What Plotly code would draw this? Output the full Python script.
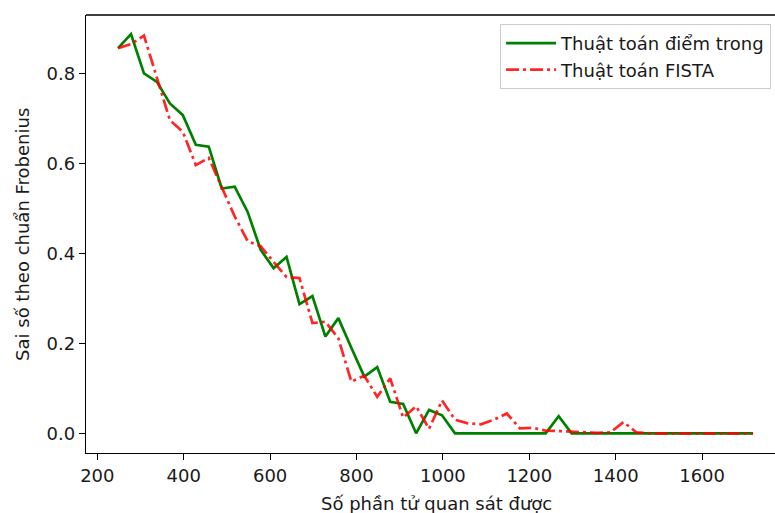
import plotly.graph_objects as go

# ---- data ----
so_phan_tu = [248, 278, 308, 338, 368, 398, 428, 458, 488, 518,
              548, 578, 608, 638, 668, 698, 728, 758, 788, 818,
              848, 878, 908, 938, 968, 998, 1028, 1058, 1088, 1118,
              1148, 1178, 1208, 1238, 1268, 1298, 1328, 1358, 1388, 1418,
              1448, 1478, 1508, 1538, 1568, 1598, 1628, 1658, 1688, 1718]

diem_trong = [0.856, 0.887, 0.800, 0.781, 0.733, 0.707, 0.641, 0.637, 0.544, 0.548,
              0.492, 0.408, 0.367, 0.392, 0.287, 0.305, 0.215, 0.256, 0.190, 0.126,
              0.147, 0.070, 0.065, 0.000, 0.052, 0.040, 0.000, 0.000, 0.000, 0.000,
              0.000, 0.000, 0.000, 0.000, 0.038, 0.000, 0.000, 0.000, 0.000, 0.000,
              0.000, 0.000, 0.000, 0.000, 0.000, 0.000, 0.000, 0.000, 0.000, 0.000]

fista = [0.856, 0.865, 0.884, 0.790, 0.696, 0.670, 0.596, 0.612, 0.547, 0.482,
         0.427, 0.416, 0.381, 0.347, 0.345, 0.245, 0.248, 0.211, 0.115, 0.128,
         0.081, 0.122, 0.035, 0.060, 0.010, 0.073, 0.030, 0.022, 0.020, 0.030,
         0.044, 0.011, 0.012, 0.006, 0.005, 0.004, 0.002, 0.001, 0.002, 0.025,
         0.002, 0.000, 0.000, 0.000, 0.000, 0.000, 0.000, 0.000, 0.000, 0.000]

x_ticks = [200, 400, 600, 800, 1000, 1200, 1400, 1600]
y_ticks = [0.0, 0.2, 0.4, 0.6, 0.8]

name_1 = "Thuật toán điểm trong"
name_2 = "Thuật toán FISTA"
x_title = "Số phần tử quan sát được"
y_title = "Sai số theo chuẩn Frobenius"

FONT = "DejaVu Sans"
TXT = "#1a1a1a"

fig = go.Figure()
fig.add_trace(go.Scatter(x=so_phan_tu, y=diem_trong, mode="lines", name=name_1,
                         line=dict(color="#008000", width=2.7)))
fig.add_trace(go.Scatter(x=so_phan_tu, y=fista, mode="lines", name=name_2,
                         line=dict(color="rgba(255,0,0,0.85)", width=2.7,
                                   dash="13px,4px,3px,4px")))

axis_common = dict(showgrid=False, zeroline=False, showline=True, linecolor="black",
                   linewidth=1.4, ticks="outside", ticklen=6, tickwidth=1.4,
                   tickcolor="black", tickfont=dict(family=FONT, size=18, color=TXT))

fig.update_xaxes(range=[173.8, 1768.8], tickvals=x_ticks,
                 ticktext=[str(v) for v in x_ticks], **axis_common)
fig.update_yaxes(range=[-0.0438, 0.9296], tickvals=y_ticks,
                 ticktext=[f"{v:.1f}" for v in y_ticks], **axis_common)

fig.update_layout(
    width=775, height=513,
    margin=dict(l=86, r=0, t=15, b=60, autoexpand=False),
    plot_bgcolor="white", paper_bgcolor="white",
    font=dict(family=FONT, size=18, color=TXT),
    showlegend=True,
    legend=dict(x=0.601, y=0.9795, xanchor="left", yanchor="top",
                bgcolor="rgba(255,255,255,0.8)", bordercolor="#cccccc", borderwidth=1,
                font=dict(family=FONT, size=18, color=TXT), itemwidth=50,
                tracegroupgap=0),
    shapes=[dict(type="line", xref="paper", yref="paper", x0=0, x1=1, y0=1, y1=1,
                 line=dict(color="black", width=1.4))],
    annotations=[
        dict(text=x_title, xref="paper", yref="paper", x=0.508, y=-0.115,
             xanchor="center", yanchor="middle", showarrow=False,
             font=dict(family=FONT, size=18, color=TXT)),
        dict(text=y_title, xref="paper", yref="paper", x=-0.093, y=0.5,
             xanchor="center", yanchor="middle", showarrow=False, textangle=-90,
             font=dict(family=FONT, size=18, color=TXT)),
    ],
)

fig.write_html("out.html")
